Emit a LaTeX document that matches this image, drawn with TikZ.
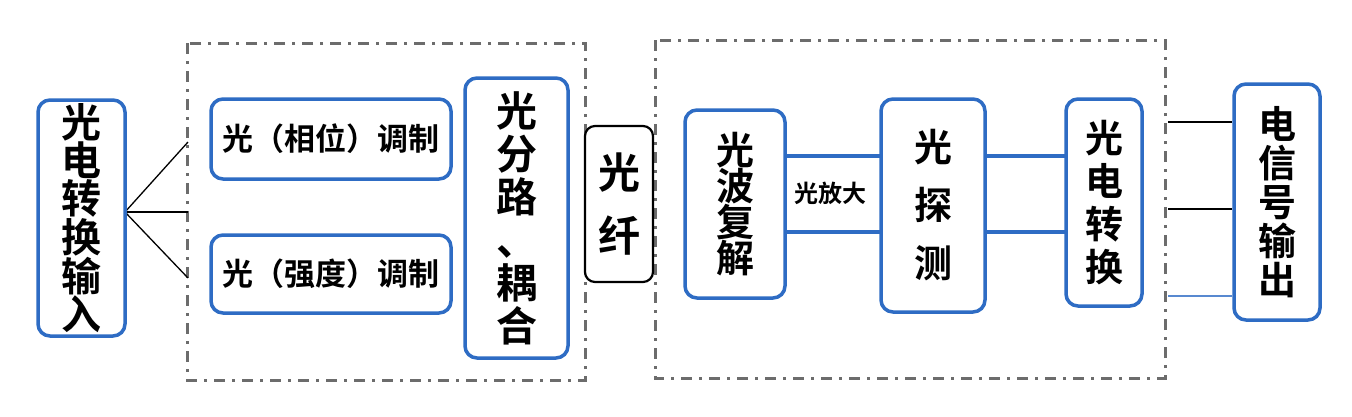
\documentclass[tikz,border=0pt]{standalone}
\usepackage{fontspec}
\setmainfont{Noto Sans CJK SC Bold}
\begin{document}
\begin{tikzpicture}[x=1pt,y=-1pt,
  bb/.style={draw=boxblue,line width=3.5pt,rounded corners=12pt,fill=white},
  grp/.style={draw=gray!85!black,line width=3pt,dash pattern=on 11pt off 7pt on 3pt off 7pt},
  ln/.style={line width=1.3pt,black},
  bl/.style={line width=3.5pt,boxblue}]
\definecolor{boxblue}{RGB}{46,108,196}
\useasboundingbox (0,0) rectangle (1352,416);
\fill[white] (0,0) rectangle (1352,416);
\draw[grp] (187,43) rectangle (585,380);
\draw[grp] (655,40) rectangle (1165,378);
% connectors
\coordinate (s) at (125,212);
\coordinate (a1) at (188,142);
\coordinate (a2) at (188,212);
\coordinate (a3) at (188,278);
\draw[ln] (s) -- (a1); \draw[ln] (s) -- (a2); \draw[ln] (s) -- (a3);
\draw[bl] (785,156) -- (881,156); \draw[bl] (785,232) -- (881,232);
\draw[bl] (985,156) -- (1066,156); \draw[bl] (985,232) -- (1066,232);
\coordinate (o1) at (1168,122);\coordinate (o2) at (1168,209);\coordinate (o3) at (1168,296);
\node[bb,minimum width=87pt,minimum height=236pt] (in) at (81.5,218) {};
\node[align=center,font=\fontsize{40}{37}\selectfont] at (in) {光\\电\\转\\换\\输\\入};
\node[bb,minimum width=240pt,minimum height=80pt,font=\fontsize{31}{34}\selectfont] (ph) at (331,139) {光（相位）调制};
\node[bb,minimum width=240pt,minimum height=78pt,font=\fontsize{31}{34}\selectfont] (it) at (331,274) {光（强度）调制};
\node[bb,minimum width=103pt,minimum height=280pt] (sp) at (516.5,218) {};
\node[align=center,font=\fontsize{41}{43}\selectfont] at (sp) {光\\分\\路\\、\\耦\\合};
\node[draw=black,line width=2.2pt,rounded corners=10pt,fill=white,minimum width=68pt,minimum height=156pt,align=center,font=\fontsize{42}{63}\selectfont] (fi) at (619,204) {光\\纤};
\node[bb,minimum width=100pt,minimum height=188pt] (de) at (735,204) {};
\node[align=center,font=\fontsize{38}{36}\selectfont] at (de) {光\\波\\复\\解};
\node[fill=white,inner sep=1pt,font=\fontsize{24}{26}\selectfont] (amp) at (830,193) {光放大};
\node[bb,minimum width=104pt,minimum height=213pt] (dt) at (933,205.5) {};
\node[align=center,font=\fontsize{38}{58}\selectfont] at (dt) {光\\探\\测};
\node[bb,minimum width=76pt,minimum height=207pt] (pc) at (1104,202.5) {};
\node[align=center,font=\fontsize{38}{43}\selectfont] at (pc) {光\\电\\转\\换};
\node[bb,minimum width=86pt,minimum height=236pt] (out) at (1277,202) {};
\node[align=center,font=\fontsize{38}{39}\selectfont] at (out) {电\\信\\号\\输\\出};
\draw[ln] (o1) -- (out.west |- o1);
\draw[ln] (o2) -- (out.west |- o2);
\draw[line width=1.3pt,boxblue!80] (o3) -- (out.west |- o3);
\end{tikzpicture}
\end{document}
